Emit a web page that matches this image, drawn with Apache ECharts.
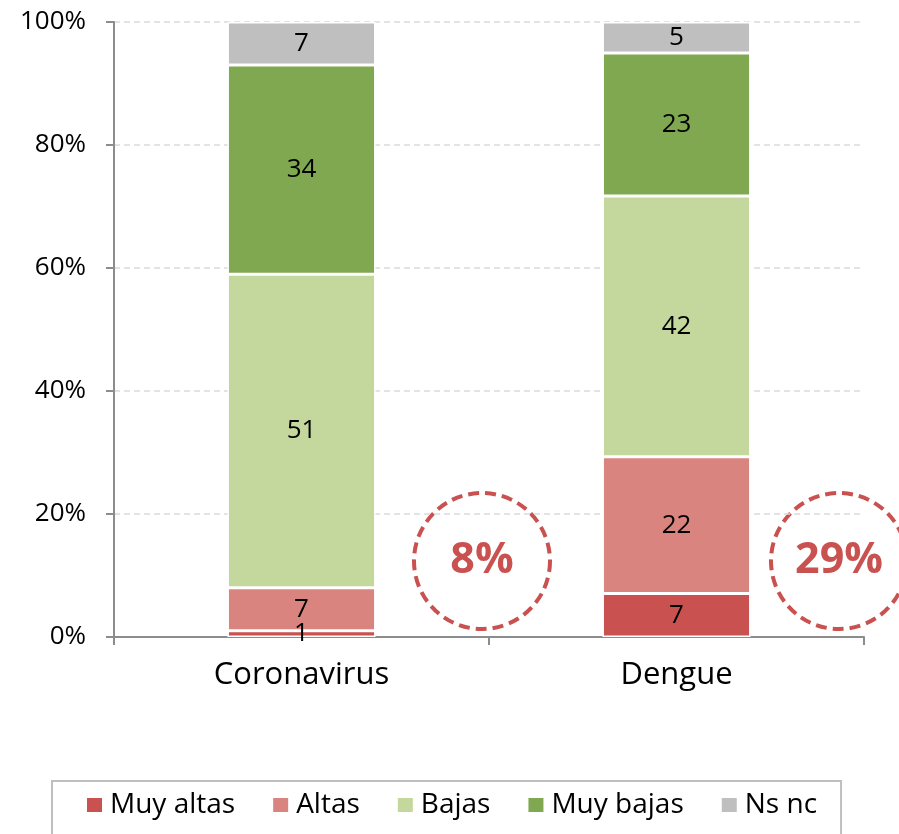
<!DOCTYPE html>
<html>
<head>
<meta charset="utf-8">
<script src="https://cdn.jsdelivr.net/npm/echarts@6/dist/echarts.min.js"></script>
<style>
  html, body { margin: 0; padding: 0; background: #fff; }
  #chart { width: 899px; height: 834px; }
</style>
</head>
<body>
<div id="chart"></div>
<script>
const categories = ['Coronavirus', 'Dengue']
const seriesNames = ['Muy altas', 'Altas', 'Bajas', 'Muy bajas', 'Ns nc']
const muyAltas = [1, 7]
const altas = [7, 22]
const bajas = [51, 42]
const muyBajas = [34, 23]
const nsNc = [7, 5]
const yTicks = [0, 20, 40, 60, 80, 100]
const colors = ['#C9514F', '#DA8480', '#C4D79C', '#7FA851', '#BFBFBF']

const raw = [muyAltas, altas, bajas, muyBajas, nsNc]
// totals per column, bars are drawn as share of 100%
const totals = categories.map((c, i) => raw.reduce((s, arr) => s + arr[i], 0))
const font = '"Open Sans", "Noto Sans", sans-serif'

const chart = echarts.init(document.getElementById('chart'))

const series = raw.map((arr, k) => ({
    name: seriesNames[k],
    type: 'bar',
    stack: 'total',
    barWidth: '39.5%',
    itemStyle: { color: colors[k], borderColor: '#fff', borderWidth: 1.5 },
    label: {
        show: true,
        position: 'inside',
        color: '#000',
        fontSize: 26,
        fontFamily: font,
        formatter: p => raw[k][p.dataIndex]
    },
    data: arr.map((v, i) => v / totals[i] * 100)
}))

// "high" share shown in dashed circles
const highShare = categories.map((c, i) => muyAltas[i] + altas[i])
const circlePos = [[482, 561], [839, 561]]
const graphics = []
circlePos.forEach((p, i) => {
    graphics.push({
        type: 'circle',
        shape: { cx: p[0], cy: p[1], r: 68 },
        style: { fill: 'none', stroke: '#C9514F', lineWidth: 4, lineDash: [11, 6] }
    })
    graphics.push({
        type: 'text',
        x: p[0], y: p[1],
        style: {
            text: highShare[i] + '%',
            fill: '#C9514F',
            font: 'bold 43px ' + font,
            align: 'center',
            verticalAlign: 'middle'
        }
    })
})

chart.setOption({
    animation: false,
    grid: { left: 114, right: 35, top: 22, bottom: 197 },
    legend: {
        data: seriesNames,
        top: 781,
        left: 52,
        padding: [10, 24, 20, 33],
        itemGap: 36,
        itemWidth: 17,
        itemHeight: 16,
        icon: 'rect',
        borderColor: '#BFBFBF',
        borderWidth: 2,
        textStyle: { fontSize: 28, fontFamily: font, color: '#000', padding: [0, 0, 0, 2] }
    },
    xAxis: {
        type: 'category',
        data: categories,
        axisLine: { lineStyle: { color: '#8C8C8C', width: 2 } },
        axisTick: { show: true, length: 8, lineStyle: { color: '#8C8C8C', width: 2 } },
        axisLabel: { fontSize: 31, fontFamily: font, color: '#000', margin: 23 }
    },
    yAxis: {
        type: 'value',
        min: 0,
        max: 100,
        interval: 20,
        axisLine: { show: true, lineStyle: { color: '#8C8C8C', width: 2 } },
        axisTick: { show: true, length: 8, lineStyle: { color: '#8C8C8C', width: 2 } },
        splitLine: { lineStyle: { color: '#DADADA', type: [6, 4], width: 1.5 } },
        axisLabel: {
            fontSize: 26,
            fontFamily: font,
            color: '#000',
            margin: 28,
            formatter: v => yTicks.includes(v) ? v + '%' : ''
        }
    },
    series: series,
    graphic: graphics
})
</script>
</body>
</html>
